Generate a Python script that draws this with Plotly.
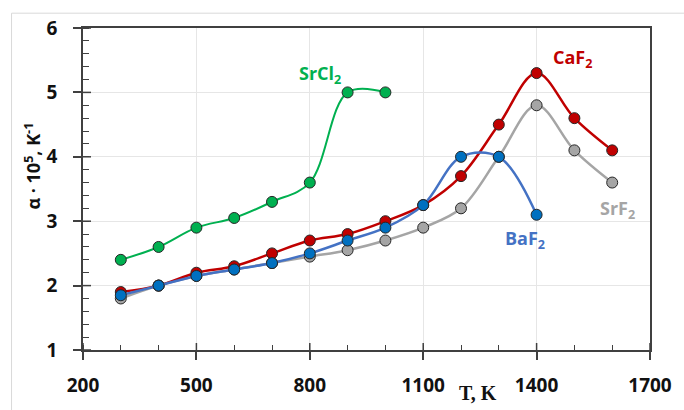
import plotly.graph_objects as go

temps_srcl2 = [300, 400, 500, 600, 700, 800, 900, 1000]
alpha_srcl2 = [2.4, 2.6, 2.9, 3.05, 3.3, 3.6, 5.0, 5.0]

temps_f = [300, 400, 500, 600, 700, 800, 900, 1000, 1100, 1200, 1300, 1400, 1500, 1600]
alpha_caf2 = [1.9, 2.0, 2.2, 2.3, 2.5, 2.7, 2.8, 3.0, 3.25, 3.7, 4.5, 5.3, 4.6, 4.1]
alpha_srf2 = [1.8, 2.0, 2.15, 2.25, 2.35, 2.45, 2.55, 2.7, 2.9, 3.2, 4.0, 4.8, 4.1, 3.6]

temps_baf2 = [300, 400, 500, 600, 700, 800, 900, 1000, 1100, 1200, 1300, 1400]
alpha_baf2 = [1.85, 2.0, 2.15, 2.25, 2.35, 2.5, 2.7, 2.9, 3.25, 4.0, 4.0, 3.1]

x_ticks = [200, 500, 800, 1100, 1400, 1700]
y_ticks = [1, 2, 3, 4, 5, 6]

GREEN = "#00B050"
RED = "#C00000"
GREY = "#A5A5A5"
BLUE_LINE = "#4472C4"
BLUE_MARK = "#0070C0"
EDGE = "#262626"

fig = go.Figure()

def add(xs, ys, line_col, mark_col, lw):
    fig.add_trace(go.Scatter(
        x=xs, y=ys, mode="lines+markers",
        line=dict(color=line_col, width=lw, shape="spline", smoothing=1.0),
        marker=dict(size=11, color=mark_col, line=dict(color=EDGE, width=1)),
        showlegend=False, hoverinfo="skip"))

add(temps_srcl2, alpha_srcl2, GREEN, GREEN, 2)
add(temps_f, alpha_srf2, GREY, GREY, 2.5)
add(temps_f, alpha_caf2, RED, RED, 2.5)
add(temps_baf2, alpha_baf2, BLUE_LINE, BLUE_MARK, 2.5)

label_font = dict(family="Open Sans", size=18, weight=700)
labels = [
    ("SrCl<sub>2</sub>", 826, 5.28, GREEN),
    ("CaF<sub>2</sub>", 1495, 5.53, RED),
    ("SrF<sub>2</sub>", 1615, 3.18, GREY),
    ("BaF<sub>2</sub>", 1370, 2.72, BLUE_LINE),
]
for txt, x, y, c in labels:
    fig.add_annotation(x=x, y=y, text=txt, showarrow=False,
                       font=dict(color=c, **label_font),
                       xanchor="center", yanchor="middle")

axis_line = "#404040"
tickfont = dict(family="Open Sans", size=19, weight=700, color="#111111")
x_min, x_max = 200, 1700
y_min, y_max = 1, 6

fig.update_layout(
    width=684, height=410,
    margin=dict(l=83, r=25, t=28, b=56),
    paper_bgcolor="white", plot_bgcolor="white",
    xaxis=dict(
        range=[x_min, x_max], tickmode="array", tickvals=x_ticks,
        ticktext=[str(v) for v in x_ticks],
        ticks="outside", ticklen=8, tickwidth=1.5, tickcolor=axis_line,
        showline=True, linecolor=axis_line, linewidth=1.5, mirror=True,
        showgrid=True, gridcolor="#E6E6E6", gridwidth=1,
        zeroline=False, tickfont=tickfont, ticklabelstandoff=9,
        minor=dict(dtick=100, tick0=200, ticks="inside", ticklen=5,
                   tickwidth=1.2, tickcolor=axis_line, showgrid=False),
    ),
    yaxis=dict(
        range=[y_min, y_max], tickmode="array", tickvals=y_ticks,
        ticks="outside", ticklen=8, tickwidth=1.5, tickcolor=axis_line,
        showline=True, linecolor=axis_line, linewidth=1.5, mirror=True,
        showgrid=True, gridcolor="#E6E6E6", gridwidth=1,
        zeroline=False, tickfont=tickfont, ticklabelstandoff=12,
        minor=dict(dtick=0.2, tick0=1, ticks="inside", ticklen=6,
                   tickwidth=1.2, tickcolor=axis_line, showgrid=False),
    ),
)

# inner half of the major ticks (so major ticks cross the axis)
for v in x_ticks:
    fig.add_shape(type="line", xref="x", yref="y", x0=v, x1=v,
                  ysizemode="pixel", yanchor=y_min, y0=0, y1=7,
                  line=dict(color=axis_line, width=1.5))
for v in y_ticks:
    fig.add_shape(type="line", xref="x", yref="y", y0=v, y1=v,
                  xsizemode="pixel", xanchor=x_min, x0=0, x1=8,
                  line=dict(color=axis_line, width=1.5))

# axis titles
fig.add_annotation(xref="paper", yref="paper", x=0.696, y=-0.135,
                   text="T, K", showarrow=False,
                   font=dict(family="Liberation Serif", size=20, weight=700, color="#111111"),
                   xanchor="center", yanchor="middle")
fig.add_annotation(xref="paper", yref="paper", x=-0.088, y=0.57,
                   text="α · 10<sup>5</sup>, K<sup>-1</sup>", showarrow=False, textangle=-90,
                   font=dict(family="Open Sans", size=18, weight=700, color="#111111"),
                   xanchor="center", yanchor="middle")

# outer light frame (top and left edges)
fig.add_shape(type="line", xref="paper", yref="paper", x0=-0.126, x1=-0.126, y0=-0.3, y1=1.046,
              line=dict(color="#D9D9D9", width=1))
fig.add_shape(type="line", xref="paper", yref="paper", x0=-0.126, x1=1.1, y0=1.046, y1=1.046,
              line=dict(color="#D9D9D9", width=1))

fig.write_html("out.html")
